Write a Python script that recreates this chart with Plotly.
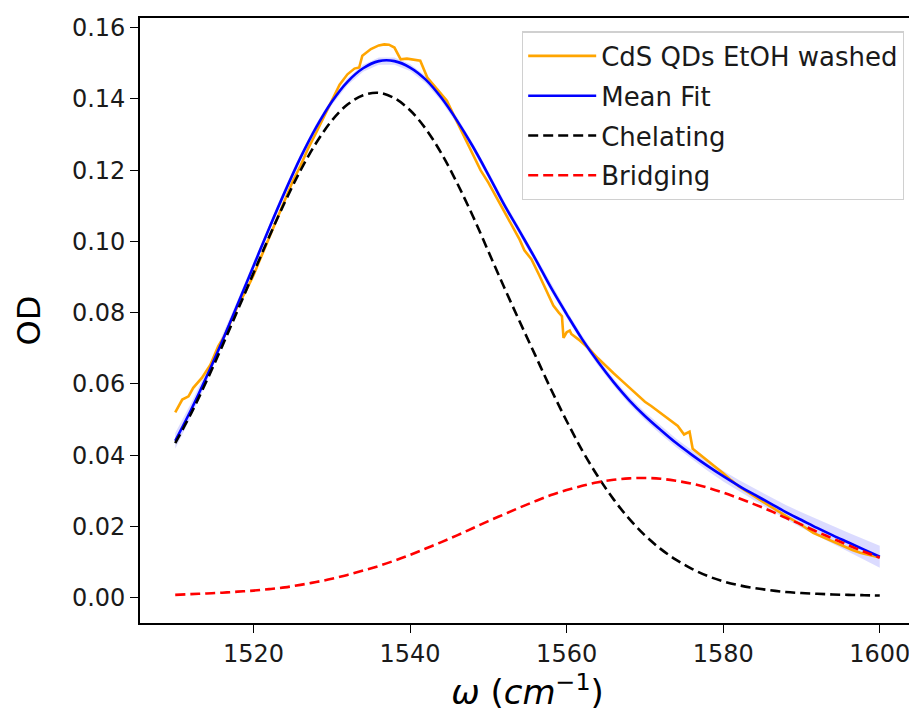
import plotly.graph_objects as go

# ---- data ----
# measured spectrum (CdS QDs EtOH washed)
wn_data = [1510.0, 1510.9, 1511.7, 1512.3, 1513.4, 1514.5, 1515.5, 1516.3, 1517.2, 1518.1,
           1519.0, 1520.0, 1521.0, 1522.0, 1523.0, 1524.0, 1525.0, 1526.0, 1527.0, 1528.0,
           1529.0, 1530.0, 1531.0, 1532.0, 1532.9, 1533.5, 1533.9, 1535.0, 1536.0, 1536.7,
           1537.3, 1538.0, 1538.8, 1539.6, 1540.5, 1541.3, 1542.2, 1543.5, 1544.7, 1546.0,
           1547.0, 1548.0, 1549.0, 1550.0, 1551.0, 1552.0, 1553.0, 1554.0, 1554.6, 1555.5,
           1556.5, 1557.5, 1558.3, 1559.0, 1559.4, 1559.6, 1560.0, 1560.4, 1560.6, 1561.5,
           1562.8, 1564.0, 1565.0, 1566.0, 1567.0, 1568.0, 1569.1, 1570.0, 1570.8, 1572.0,
           1573.3, 1574.2, 1575.0, 1575.7, 1576.1, 1577.6, 1579.0, 1580.0, 1581.0, 1582.0,
           1583.0, 1584.0, 1585.2, 1586.0, 1587.0, 1588.0, 1589.0, 1590.0, 1591.5, 1592.5,
           1593.5, 1594.5, 1595.5, 1596.5, 1597.5, 1598.5, 1599.6]
od_data = [0.0520, 0.0556, 0.0565, 0.0589, 0.0617, 0.0654, 0.0706, 0.0735, 0.0780, 0.0825,
           0.0860, 0.0905, 0.0958, 0.1010, 0.1060, 0.1112, 0.1168, 0.1212, 0.1262, 0.1305,
           0.1350, 0.1395, 0.1440, 0.1469, 0.1485, 0.1488, 0.1521, 0.1540, 0.1550, 0.1553,
           0.1552, 0.1544, 0.1511, 0.1513, 0.1510, 0.1507, 0.1460, 0.1427, 0.1395, 0.1335,
           0.1290, 0.1245, 0.1200, 0.1165, 0.1125, 0.1085, 0.1045, 0.1005, 0.0975, 0.0950,
           0.0905, 0.0858, 0.0820, 0.0800, 0.0790, 0.0729, 0.0745, 0.0750, 0.0740, 0.0725,
           0.0700, 0.0672, 0.0650, 0.0630, 0.0610, 0.0590, 0.0566, 0.0550, 0.0538, 0.0518,
           0.0498, 0.0482, 0.0458, 0.0466, 0.0418, 0.0392, 0.0368, 0.0349, 0.0330, 0.0312,
           0.0298, 0.0284, 0.0266, 0.0256, 0.0243, 0.0230, 0.0218, 0.0204, 0.0182, 0.0172,
           0.0163, 0.0152, 0.0143, 0.0134, 0.0126, 0.0120, 0.0115]

# fit grid
wn_fit = [1510, 1512, 1514, 1516, 1518, 1520, 1522, 1524, 1526, 1528,
          1530, 1532, 1534, 1536, 1538, 1540, 1542, 1544, 1546, 1548,
          1550, 1552, 1554, 1556, 1558, 1560, 1562, 1564, 1566, 1568,
          1570, 1572, 1574, 1576, 1578, 1580, 1582, 1584, 1586, 1588,
          1590, 1592, 1594, 1596, 1598, 1600]
mean_fit = [0.0440, 0.0526, 0.0620, 0.0720, 0.0825, 0.0931, 0.1037, 0.1139, 0.1235, 0.1320,
            0.1392, 0.1448, 0.1486, 0.1506, 0.1506, 0.1488, 0.1454, 0.1403, 0.1339, 0.1267,
            0.1187, 0.1104, 0.1028, 0.0951, 0.0870, 0.0796, 0.0725, 0.0662, 0.0605, 0.0554,
            0.0510, 0.0471, 0.0434, 0.0401, 0.0370, 0.0341, 0.0314, 0.0289, 0.0265, 0.0240,
            0.0218, 0.0196, 0.0175, 0.0155, 0.0135, 0.0115]
fit_err = [0.0022, 0.0019, 0.0016, 0.0014, 0.0012, 0.0011, 0.0010, 0.0010, 0.0010, 0.0010,
           0.0010, 0.0010, 0.0010, 0.0010, 0.0010, 0.0010, 0.0010, 0.0010, 0.0010, 0.0010,
           0.0010, 0.0010, 0.0010, 0.0010, 0.0010, 0.0010, 0.0010, 0.0010, 0.0010, 0.0011,
           0.0011, 0.0012, 0.0012, 0.0013, 0.0014, 0.0015, 0.0016, 0.0017, 0.0019, 0.0020,
           0.0022, 0.0024, 0.0025, 0.0027, 0.0029, 0.0031]
chelating = [0.0434, 0.0516, 0.0608, 0.0706, 0.0808, 0.0911, 0.1013, 0.1110, 0.1199, 0.1276,
             0.1339, 0.1384, 0.1410, 0.1417, 0.1402, 0.1368, 0.1316, 0.1247, 0.1164, 0.1072,
             0.0972, 0.0872, 0.0775, 0.0680, 0.0585, 0.0496, 0.0413, 0.0340, 0.0276, 0.0221,
             0.0175, 0.0137, 0.0106, 0.0081, 0.0061, 0.0046, 0.0035, 0.0027, 0.0021, 0.0016,
             0.0013, 0.0011, 0.0009, 0.0008, 0.0007, 0.0006]
bridging = [0.0008, 0.0010, 0.0012, 0.0014, 0.0017, 0.0020, 0.0024, 0.0029, 0.0036, 0.0044,
            0.0053, 0.0064, 0.0076, 0.0089, 0.0104, 0.0120, 0.0138, 0.0156, 0.0175, 0.0195,
            0.0215, 0.0234, 0.0253, 0.0271, 0.0288, 0.0302, 0.0314, 0.0324, 0.0331, 0.0335,
            0.0336, 0.0334, 0.0328, 0.0320, 0.0309, 0.0295, 0.0279, 0.0262, 0.0244, 0.0224,
            0.0205, 0.0185, 0.0166, 0.0147, 0.0129, 0.0112]

x_ticks = [1520, 1540, 1560, 1580, 1600]
y_ticks = [0.00, 0.02, 0.04, 0.06, 0.08, 0.10, 0.12, 0.14, 0.16]
y_tick_text = ["0.00", "0.02", "0.04", "0.06", "0.08", "0.10", "0.12", "0.14", "0.16"]

FONT = "DejaVu Sans"

upper = [m + e for m, e in zip(mean_fit, fit_err)]
lower = [m - e for m, e in zip(mean_fit, fit_err)]

fig = go.Figure()
# confidence band
fig.add_trace(go.Scatter(x=wn_fit + wn_fit[::-1], y=upper + lower[::-1],
                         fill="toself", fillcolor="rgba(0,0,255,0.14)",
                         line=dict(width=0, color="rgba(0,0,255,0)"),
                         hoverinfo="skip", showlegend=False))
fig.add_trace(go.Scatter(x=wn_data, y=od_data, mode="lines", name="CdS QDs EtOH washed",
                         legendgroup="a", line=dict(color="#FFA500", width=2.6)))
fig.add_trace(go.Scatter(x=wn_fit, y=mean_fit, mode="lines", name="Mean Fit",
                         legendgroup="b", line=dict(color="#0000FF", width=2.6, shape="spline")))
fig.add_trace(go.Scatter(x=wn_fit, y=chelating, mode="lines", name="Chelating",
                         legendgroup="c",
                         line=dict(color="black", width=2.6, dash="10px,5px", shape="spline")))
fig.add_trace(go.Scatter(x=wn_fit, y=bridging, mode="lines", name="Bridging",
                         legendgroup="d",
                         line=dict(color="#FF0000", width=2.6, dash="10px,5px", shape="spline")))

axis_common = dict(showgrid=False, zeroline=False, showline=True, linecolor="black",
                   linewidth=1.6, mirror=True, ticks="outside", ticklen=8, tickwidth=1.4,
                   tickcolor="black", automargin=False,
                   tickfont=dict(family=FONT, size=24, color="#1a1a1a"))

fig.update_xaxes(range=[1505.5, 1604.5], tickvals=x_ticks,
                 title=dict(text="<i>ω</i> (<i>cm</i><sup>−1</sup>)",
                            font=dict(family=FONT, size=34, color="black"), standoff=4),
                 **axis_common)
fig.update_yaxes(range=[-0.0071, 0.1627], tickvals=y_ticks, ticktext=y_tick_text,
                 title=dict(text="OD", font=dict(family=FONT, size=32, color="black"), standoff=22),
                 **axis_common)

# page body adds an 8px offset, so the figure is 8px smaller and margins shifted
fig.update_layout(
    width=909, height=716,
    margin=dict(l=132, r=2, t=10, b=101),
    paper_bgcolor="white", plot_bgcolor="white",
    font=dict(family=FONT, color="#1a1a1a"),
    legend=dict(x=0.9858, y=0.978, xanchor="right", yanchor="top",
                bgcolor="rgba(255,255,255,0.85)", bordercolor="#d0d0d0", borderwidth=1.2,
                tracegroupgap=3,
                font=dict(family=FONT, size=26, color="#1a1a1a"), itemwidth=68),
)

fig.write_html("out.html")
